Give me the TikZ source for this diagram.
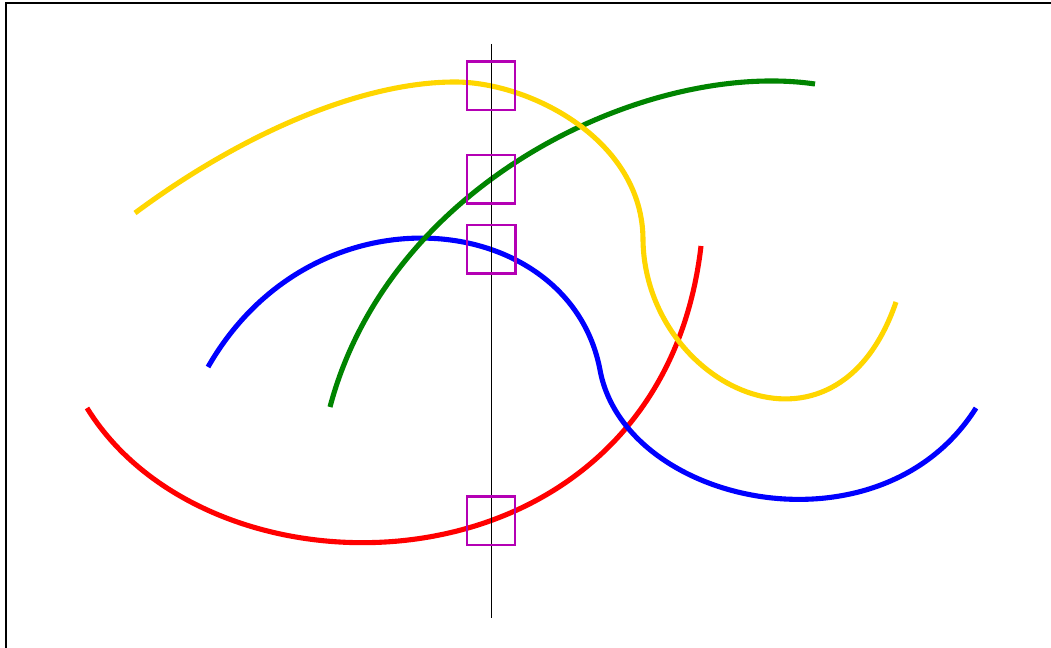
\documentclass[tikz,border=0pt]{standalone}
\usepackage{xcolor}
\usepackage{tikz}
\usetikzlibrary{intersections}

\begin{document}
\begin{tikzpicture}[x=0.02cm,y=-0.02cm,
    curve/.style={line width=2.9pt},
    markbox/.style={draw=cmark,line width=1.4pt,minimum size=0.97cm,inner sep=0pt}]
  \definecolor{cyel}{RGB}{255,214,0}
  \definecolor{cgrn}{RGB}{0,132,0}
  \definecolor{cmark}{RGB}{180,0,180}
  \useasboundingbox (0,0) rectangle (1051,648);
  \begin{scope}
    \clip (0,0) rectangle (1051,648);
    \draw[line width=0.8pt] (6,3) rectangle (1060,660);
  \end{scope}
  % the four curves, bottom one first
  \draw[curve,red,name path=red] (87,408) .. controls (215,615) and (660,600) .. (701,246);
  \draw[curve,blue,name path=blue] (208,367) .. controls (315,180) and (570,210) .. (600,370)
    .. controls (625,505) and (880,560) .. (976,408);
  \draw[curve,cgrn,name path=green] (330,407) .. controls (390,180) and (650,60) .. (815,84);
  \draw[curve,cyel,name path=yellow] (135,213) .. controls (240,135) and (360,82) .. (455,82)
    .. controls (530,82) and (643,140) .. (643,240)
    .. controls (645,385) and (835,480) .. (896,302);
  % vertical probe and its crossings
  \coordinate (vtop) at (491,44);
  \coordinate (vbot) at (491,618);
  \draw[line width=0.5pt,name path=probe] (vtop) -- (vbot);
  \path[name intersections={of=probe and yellow,by=iy}];
  \path[name intersections={of=probe and green,by=ig}];
  \path[name intersections={of=probe and blue,by=ib}];
  \path[name intersections={of=probe and red,by=ir}];
  \node[markbox] (myel) at (iy) {};
  \node[markbox] (mgrn) at (ig) {};
  \node[markbox] (mblu) at (ib) {};
  \node[markbox] (mred) at (ir) {};
\end{tikzpicture}
\end{document}
